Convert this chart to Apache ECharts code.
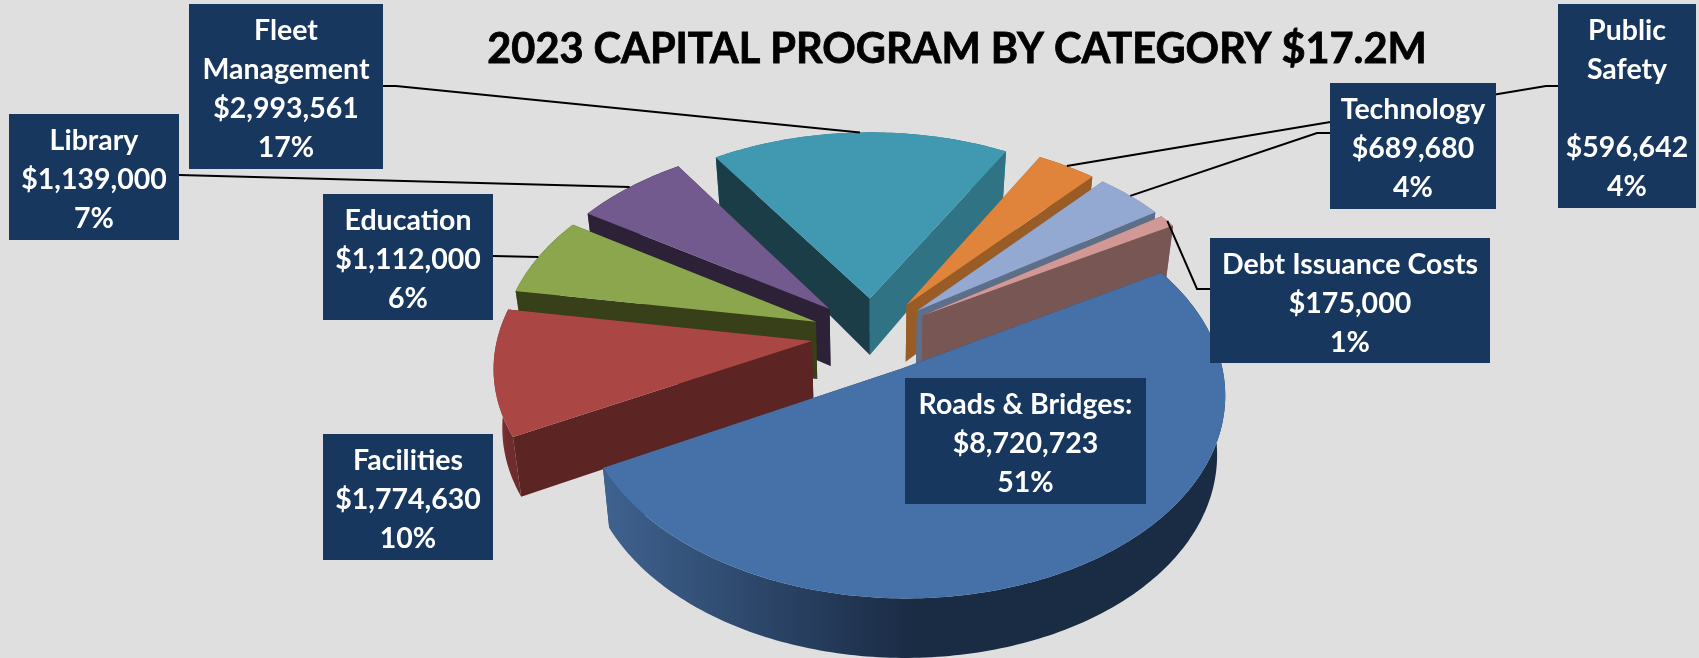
<!DOCTYPE html>
<html><head><meta charset="utf-8">
<style>html,body{margin:0;padding:0;background:#dfdfdf}#c{width:1699px;height:658px}</style>
<script src="https://cdn.jsdelivr.net/npm/echarts@6/dist/echarts.min.js"></script>
</head><body><div id="c"></div>
<script>
// ---- data ----
var chartTitle = '2023 CAPITAL PROGRAM BY CATEGORY $17.2M';
var categories = ['Roads & Bridges:', 'Facilities', 'Education', 'Library', 'Fleet\nManagement', 'Public\nSafety\n', 'Technology', 'Debt Issuance Costs'];
var amounts = [8720723, 1774630, 1112000, 1139000, 2993561, 596642, 689680, 175000];
var percentLabels = ['51%', '10%', '6%', '7%', '17%', '4%', '4%', '1%'];

// ---- styling ----
var topColors = ['#4571a8', '#aa4744', '#8ba64d', '#735a8e', '#4099b0', '#df843a', '#93a9d2', '#d19896'];
var startWallColors = ['#2a4468', '#5d2424', '#384019', '#2d2138', '#1a3d47', '#995c26', '#5c6e88', '#785654'];
var endWallColors = ['#2a4468', '#5d2424', '#384019', '#2d2138', '#2f7385', '#995c26', '#5c6e88', '#785654'];
var rimLeft = ['#3f628f', '#8f3c3a', '#6f853d', '#5a4670', '#2f7385', '#a8642a', '#708cb0', '#a08a88'];
var rimRight = ['#1a2b44', '#6f2c2c', '#384019', '#2d2138', '#2f7385', '#995c26', '#5c6e88', '#917674'];

// ---- pie projection ----
var startAngle = -30.2, explode = 0.193;
var X0 = 872, Y0 = 335, Rx = 314, Ry = 194, persp = 0.119, baseShrink = 0.977;
function wallDepth(v) { return 57.7 + 5.65 * v - 3.51 * v * v; }
function projTop(u, v) { var w = 1 - persp * v; return [X0 + Rx * u / w, Y0 + Ry * v / w]; }
function projBase(u, v) { var w = 1 - persp * v; return [X0 + baseShrink * Rx * u / w, Y0 + Ry * v / w + wallDepth(v)]; }

// ---- label boxes: [x, y, w, h], the bends of each leader line, and where along the arc it lands ----
var boxes = [[905,378,241,126],[323,434,170,126],[323,194,170,126],[9,114,170,126],[189,4,194,165],[1558,4,138,204],[1330,83,166,126],[1210,238,280,125]];
var leaders = [null, null, [[493,256]], [[179,175]], [[383,86],[396,86]], [[1558,86],[1546,86]], [[1330,133],[1317,133]], [[1210,289],[1197,289]]];
var leaderFrac = [0.5, 0.5, 0.48, 0.5, 0.5, 0.5, 0.5, 0.5];
var labelFont = 'bold 28.5px Lato, sans-serif', labelLine = 39, labelShift = 3, boxColor = '#17375e';

var total = amounts.reduce(function (a, b) { return a + b; }, 0);
var money = function (n) { return '$' + n.toLocaleString('en-US'); };
var slices = [], cursor = startAngle;
amounts.forEach(function (val, i) {
  var sweep = val / total * 360;
  var a0 = cursor * Math.PI / 180, a1 = (cursor + sweep) * Math.PI / 180, mid = (a0 + a1) / 2;
  slices.push({ a0: a0, a1: a1, mid: mid, cu: explode * Math.cos(mid), cv: explode * Math.sin(mid) });
  cursor += sweep;
});
var order = slices.map(function (s, i) { return i; }).sort(function (p, q) { return Math.sin(slices[p].mid) - Math.sin(slices[q].mid); });

function renderSlice(params, api) {
  var i = api.value(0), s = slices[i], z = order.indexOf(i) * 10 + 1;
  var arc = [], n = Math.max(4, Math.ceil((s.a1 - s.a0) * 60));
  for (var t = 0; t <= n; t++) {
    var a = s.a0 + (s.a1 - s.a0) * t / n;
    arc.push([s.cu + Math.cos(a), s.cv + Math.sin(a)]);
  }
  var apex = [s.cu, s.cv];
  var uvTop = function (p) { return projTop(p[0], p[1]); }, uvBase = function (p) { return projBase(p[0], p[1]); };
  var wall = function (ring) { return ring.map(uvTop).concat(ring.slice().reverse().map(uvBase)); };
  var faces = [
    { pts: wall([apex, arc[0]]), fill: startWallColors[i] },
    { pts: wall([apex, arc[n]]), fill: endWallColors[i] },
    { pts: wall(arc), fill: new echarts.graphic.LinearGradient(0, 0, 1, 0, [
        { offset: 0, color: rimLeft[i] }, { offset: 0.5, color: rimRight[i] }, { offset: 1, color: rimRight[i] }]) }
  ];
  var avgY = function (f) { return f.pts.reduce(function (m, p) { return m + p[1]; }, 0) / f.pts.length; };
  faces.sort(function (f, g) { return avgY(f) - avgY(g); });
  var kids = faces.map(function (f, k) {
    return { type: 'polygon', z2: z + k, shape: { points: f.pts }, style: { fill: f.fill } };
  });
  kids.push({ type: 'polygon', z2: z + 3, shape: { points: [apex].concat(arc).map(uvTop) }, style: { fill: topColors[i] } });

  // label box + leader
  var b = boxes[i];
  var L = leaders[i];
  if (L) {
    var at = s.a0 + (s.a1 - s.a0) * leaderFrac[i];
    var anchor = projTop(s.cu + Math.cos(at), s.cv + Math.sin(at));
    kids.push({ type: 'polyline', z2: 200, shape: { points: L.concat([anchor]) }, style: { fill: null, stroke: '#000', lineWidth: 2 } });
  }
  kids.push({ type: 'rect', z2: 300, shape: { x: b[0], y: b[1], width: b[2], height: b[3] }, style: { fill: boxColor } });
  kids.push({ type: 'text', z2: 301, x: b[0] + b[2] / 2, y: b[1] + b[3] / 2 + labelShift, style: {
    text: categories[i] + '\n' + money(amounts[i]) + '\n' + percentLabels[i],
    fill: '#fff', font: labelFont, lineHeight: labelLine, align: 'center', verticalAlign: 'middle' } });
  return { type: 'group', children: kids };
}

var chart = echarts.init(document.getElementById('c'), null, { renderer: 'canvas' });
chart.setOption({
  animation: false,
  backgroundColor: '#dfdfdf',
  title: { text: chartTitle, left: 952, top: 24, textAlign: 'center',
    textStyle: { fontFamily: 'Lato, sans-serif', fontWeight: 'bold', fontSize: 41.5, color: '#000', textBorderColor: '#000', textBorderWidth: 0.8 } },
  tooltip: { show: false },
  series: [{ type: 'custom', coordinateSystem: 'none', silent: true, clip: false,
    data: amounts.map(function (v, i) { return [i, v]; }),
    renderItem: renderSlice }]
});
</script></body></html>
